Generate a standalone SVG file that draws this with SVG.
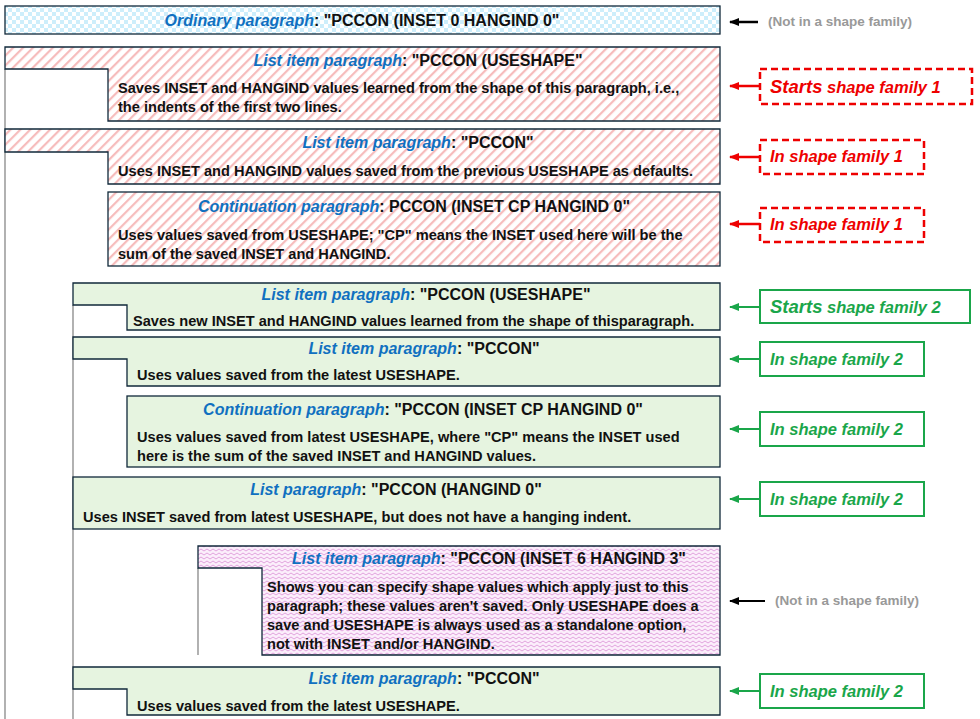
<svg xmlns="http://www.w3.org/2000/svg" width="980" height="719" viewBox="0 0 980 719">
<defs>
<pattern id="chk" width="8" height="8" patternUnits="userSpaceOnUse"><rect width="8" height="8" fill="#fff"/><rect width="4" height="4" fill="#cdeefb"/><rect x="4" y="4" width="4" height="4" fill="#cdeefb"/></pattern>
<pattern id="hatch" width="7" height="7" patternUnits="userSpaceOnUse" patternTransform="rotate(45)"><rect width="7" height="7" fill="#fff"/><rect width="2.2" height="7" fill="#f6bcbc"/></pattern>
<pattern id="zig" width="6" height="4" patternUnits="userSpaceOnUse"><rect width="6" height="4" fill="#fbeefb"/><path d="M0,3 L3,1 L6,3" fill="none" stroke="#d98fd4" stroke-width="0.8"/></pattern>
<marker id="ab" markerWidth="10" markerHeight="10" refX="9" refY="5" orient="auto" markerUnits="userSpaceOnUse"><path d="M0,1 L10,5 L0,9 Z" fill="#000"/></marker>
<marker id="ar" markerWidth="10" markerHeight="10" refX="9" refY="5" orient="auto" markerUnits="userSpaceOnUse"><path d="M0,1 L10,5 L0,9 Z" fill="#e00"/></marker>
<marker id="ag" markerWidth="10" markerHeight="10" refX="9" refY="5" orient="auto" markerUnits="userSpaceOnUse"><path d="M0,1 L10,5 L0,9 Z" fill="#1aa64a"/></marker>
</defs>
<style>
text{font-family:"Liberation Sans",Arial,sans-serif;font-weight:bold;font-size:14.6px;fill:#111}
.t{font-size:16px}
.b{fill:#1070c0;font-style:italic}
.box{stroke:#10283a;stroke-width:1.3}
.g{fill:#e6f4e0}
.gl{stroke:#888;stroke-width:1.3}
.rl{fill:none;stroke:#e00;stroke-width:2.5;stroke-dasharray:7,4}
.gb{fill:#fff;stroke:#1aa64a;stroke-width:2}
.rt{fill:#e00;font-style:italic;font-size:16.5px}
.gt{fill:#1aa64a;font-style:italic;font-size:16.5px}
.gray{fill:#999;font-size:13.5px}
</style>
<g id="guides">
<line class="gl" x1="5" y1="69" x2="5" y2="719"/>
<line class="gl" x1="73" y1="305" x2="73" y2="719"/>
<line class="gl" x1="198" y1="568" x2="198" y2="655"/>
</g>
<g id="n0"><rect class="box" x="5" y="6" width="715" height="28" fill="url(#chk)"/>
<text class="t" x="362" y="26" text-anchor="middle"><tspan class="b">Ordinary paragraph</tspan>:  "PCCON (INSET 0 HANGIND 0"</text></g>
<g id="n1"><path class="box" d="M5,47 H720 V121 H108 V69 H5 Z" fill="url(#hatch)"/>
<text class="t" x="418" y="66" text-anchor="middle"><tspan class="b">List item paragraph</tspan>:  "PCCON (USESHAPE"</text>
<text x="118" y="93">Saves INSET and HANGIND values learned from the shape of this paragraph, i.e.,</text>
<text x="118" y="112">the indents of the first two lines.</text></g>
<g id="n2"><path class="box" d="M5,129 H720 V184 H108 V152 H5 Z" fill="url(#hatch)"/>
<text class="t" x="418" y="148" text-anchor="middle"><tspan class="b">List item paragraph</tspan>:  "PCCON"</text>
<text x="118" y="176">Uses INSET and HANGIND values saved from the previous USESHAPE as defaults.</text></g>
<g id="n3"><rect class="box" x="108" y="192" width="612" height="74" fill="url(#hatch)"/>
<text class="t" x="414" y="212" text-anchor="middle"><tspan class="b">Continuation paragraph</tspan>:  PCCON (INSET CP HANGIND 0"</text>
<text x="118" y="240">Uses values saved from USESHAPE; "CP" means the INSET used here will be the</text>
<text x="118" y="259">sum of the saved INSET and HANGIND.</text></g>
<g id="n4"><path class="box g" d="M73,283 H720 V330 H127 V305 H73 Z"/>
<text class="t" x="426" y="300" text-anchor="middle"><tspan class="b">List item paragraph</tspan>:  "PCCON (USESHAPE"</text>
<text x="133" y="326">Saves new INSET and HANGIND values learned from the shape of thisparagraph.</text></g>
<g id="n5"><path class="box g" d="M73,337 H720 V386 H127 V359 H73 Z"/>
<text class="t" x="424" y="354" text-anchor="middle"><tspan class="b">List item paragraph</tspan>:  "PCCON"</text>
<text x="137" y="380">Uses values saved from the latest USESHAPE.</text></g>
<g id="n6"><rect class="box g" x="127" y="396" width="593" height="71"/>
<text class="t" x="423" y="415" text-anchor="middle"><tspan class="b">Continuation paragraph</tspan>:   "PCCON (INSET CP HANGIND 0"</text>
<text x="137" y="442">Uses values saved from latest USESHAPE, where "CP" means the INSET used</text>
<text x="137" y="461">here is the sum of the saved INSET and HANGIND values.</text></g>
<g id="n7"><rect class="box g" x="73" y="477" width="647" height="52"/>
<text class="t" x="396" y="495" text-anchor="middle"><tspan class="b">List paragraph</tspan>:  "PCCON (HANGIND 0"</text>
<text x="83" y="522">Uses INSET saved from latest USESHAPE, but does not have  a hanging indent.</text></g>
<g id="n8"><path class="box" d="M198,546 H720 V655 H262 V568 H198 Z" fill="url(#zig)"/>
<text class="t" x="489" y="564" text-anchor="middle"><tspan class="b">List item paragraph</tspan>:   "PCCON (INSET 6 HANGIND 3"</text>
<text x="267" y="592">Shows you can specify shape values which apply just to this</text>
<text x="267" y="611">paragraph; these values aren't saved. Only USESHAPE does a</text>
<text x="267" y="630">save and USESHAPE is always used as a standalone option,</text>
<text x="267" y="649">not with INSET and/or HANGIND.</text></g>
<g id="n9"><path class="box g" d="M73,667 H720 V715 H127 V689 H73 Z"/>
<text class="t" x="424" y="684" text-anchor="middle"><tspan class="b">List item paragraph</tspan>:  "PCCON"</text>
<text x="137" y="711">Uses values saved from the latest USESHAPE.</text></g>
<g id="labels">
<text class="gray" x="768" y="26">(Not in a shape family)</text>
<text class="gray" x="775" y="605">(Not in a shape family)</text>
<g id="l1"><rect class="rl" x="760" y="69" width="212" height="35"/><text class="rt" x="770" y="93"><tspan font-size="18.5">Starts</tspan> shape family 1</text></g>
<g id="l2"><rect class="rl" x="760" y="140" width="164" height="34"/><text class="rt" x="770" y="162">In shape family 1</text></g>
<g id="l3"><rect class="rl" x="760" y="208" width="164" height="34"/><text class="rt" x="770" y="230">In shape family 1</text></g>
<g id="l4"><rect class="gb" x="760" y="290" width="210" height="33"/><text class="gt" x="770" y="313"><tspan font-size="18.5">Starts</tspan> shape family 2</text></g>
<g id="l5"><rect class="gb" x="760" y="342" width="164" height="34"/><text class="gt" x="770" y="365">In shape family 2</text></g>
<g id="l6"><rect class="gb" x="760" y="412" width="164" height="34"/><text class="gt" x="770" y="435">In shape family 2</text></g>
<g id="l7"><rect class="gb" x="760" y="482" width="164" height="34"/><text class="gt" x="770" y="505">In shape family 2</text></g>
<g id="l8"><rect class="gb" x="760" y="674" width="164" height="34"/><text class="gt" x="770" y="697">In shape family 2</text></g>
</g>
<g id="connectors">
<line x1="758" y1="22" x2="730" y2="22" stroke="#000" stroke-width="2.5" marker-end="url(#ab)"/>
<line x1="765" y1="601" x2="730" y2="601" stroke="#000" stroke-width="2" marker-end="url(#ab)"/>
<line x1="760" y1="86" x2="730" y2="86" stroke="#e00" stroke-width="2.5" marker-end="url(#ar)"/>
<line x1="760" y1="157" x2="730" y2="157" stroke="#e00" stroke-width="2.5" marker-end="url(#ar)"/>
<line x1="760" y1="224" x2="730" y2="224" stroke="#e00" stroke-width="2.5" marker-end="url(#ar)"/>
<line x1="760" y1="307" x2="730" y2="307" stroke="#1aa64a" stroke-width="2" marker-end="url(#ag)"/>
<line x1="760" y1="359" x2="730" y2="359" stroke="#1aa64a" stroke-width="2" marker-end="url(#ag)"/>
<line x1="760" y1="429" x2="730" y2="429" stroke="#1aa64a" stroke-width="2" marker-end="url(#ag)"/>
<line x1="760" y1="499" x2="730" y2="499" stroke="#1aa64a" stroke-width="2" marker-end="url(#ag)"/>
<line x1="760" y1="691" x2="730" y2="691" stroke="#1aa64a" stroke-width="2" marker-end="url(#ag)"/>
</g>
</svg>
